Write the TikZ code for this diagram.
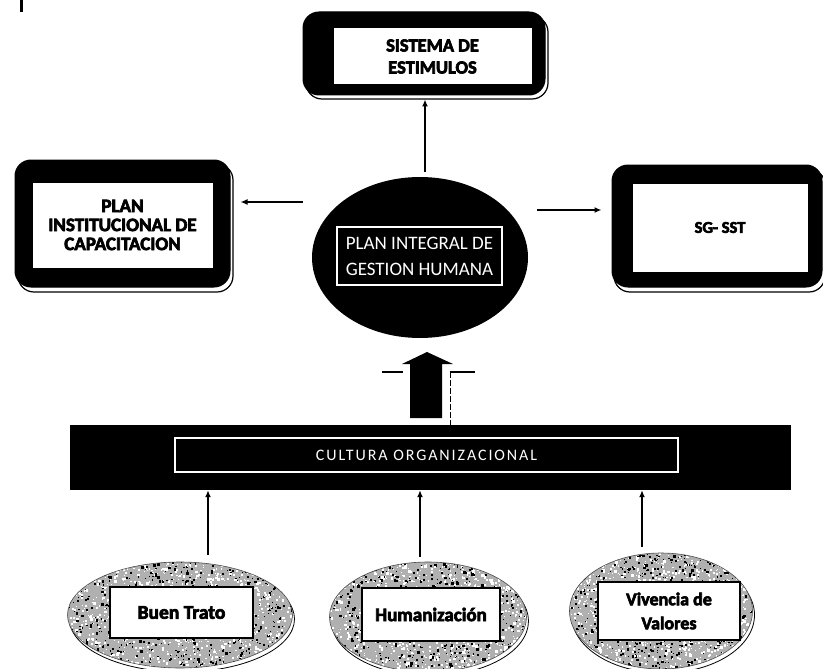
\documentclass[tikz,border=0pt]{standalone}
\usepackage{fontspec}
\setmainfont{Carlito}
\newfontfamily\heavy{Carlito Bold}[FakeBold=3.5]
\newfontfamily\spaced{Carlito}[LetterSpace=12]
\usetikzlibrary{shapes.geometric,arrows.meta}
\tikzset{
  outerbox/.style={draw=black, fill=black, rounded corners=16pt, line width=1pt},
  shadowbox/.style={draw=black, line width=1.2pt, rounded corners=16pt},
  innerbox/.style={draw=black, fill=white, line width=1pt, align=center, text=black, inner sep=0pt},
  whitebox/.style={draw=white, fill=black, line width=2.2pt, align=center, text=white, inner sep=0pt},
  valbox/.style={draw=black, fill=white, line width=1.8pt, align=center, text=black,
     font=\heavy\fontsize{19}{24}\selectfont, inner sep=0pt},
  arr/.style={line width=1.6pt, -{Latex[length=7pt,width=6pt]}},
}
\newcommand{\speckle}[4]{% cx cy rx ry
  \begin{scope}
    \clip (#1,#2) ellipse [x radius=#3pt, y radius=#4pt];
    \fill[gray!62] (#1,#2) ellipse [x radius=#3pt, y radius=#4pt];
    \foreach \i in {1,...,1700}{
      \pgfmathsetmacro{\px}{#1+#3*(2*rnd-1)}
      \pgfmathsetmacro{\py}{#2+#4*(2*rnd-1)}
      \pgfmathsetmacro{\sz}{0.7+1.9*rnd}
      \pgfmathsetmacro{\cl}{rnd<0.6 ? 0 : 100}
      \fill[black!\cl] (\px,\py) rectangle ++(\sz,\sz);
    }
  \end{scope}
  \draw[black!70, line width=0.6pt] (#1,#2) ellipse [x radius=#3pt, y radius=#4pt];
}
\begin{document}
\begin{tikzpicture}[x=1pt,y=-1pt]
\pgfmathsetseed{7}
\useasboundingbox (0,0) rectangle (823,669);
\fill[white] (0,0) rectangle (823,669);
% stray mark top-left
\draw[line width=3pt] (21,0) -- (21,12);

% ---- top box
\draw[shadowbox] (306,16) rectangle (548,99);
\node[outerbox, minimum width=242pt, minimum height=83pt] (topo) at (424,53.5) {};
\node[innerbox, minimum width=199pt, minimum height=57pt, font=\heavy\fontsize{18.5}{22}\selectfont] (top) at (432.5,56.5) {SISTEMA DE\\ESTIMULOS};

% ---- left box
\draw[shadowbox] (18,164) rectangle (233,292);
\node[outerbox, minimum width=215pt, minimum height=127pt] (lefto) at (122.5,223.5) {};
\node[innerbox, minimum width=181pt, minimum height=86pt, font=\heavy\fontsize{19}{19}\selectfont] (left) at (122.5,225) {PLAN\\INSTITUCIONAL DE\\CAPACITACION};

% ---- right box
\draw[shadowbox] (614,169) rectangle (825,292);
\node[outerbox, minimum width=210pt, minimum height=122pt] (righto) at (717,226) {};
\node[innerbox, minimum width=176pt, minimum height=89pt, font=\heavy\fontsize{16.5}{22}\selectfont] (right) at (720,227.5) {SG- SST};

% ---- central ellipse
\node[ellipse, fill=black, minimum width=216pt, minimum height=161pt, inner sep=0pt] (ell) at (420,257.5) {};
\node[whitebox, minimum width=165pt, minimum height=58pt, font=\fontsize{19}{26}\selectfont] (pig) at (419.5,256) {PLAN INTEGRAL DE\\GESTION HUMANA};

% ---- arrows from centre
\coordinate (ua) at (425,172);
\draw[arr] (ua) -- ([yshift=-4pt]ua |- topo.south);
\coordinate (la) at (303,202);
\draw[arr] (la) -- ([xshift=10pt]la -| lefto.east);
\coordinate (ra) at (537,210);
\draw[arr] (ra) -- ([xshift=-10pt]ra -| righto.west);

% ---- cultura bar
\node[fill=black, minimum width=721pt, minimum height=65pt, inner sep=0pt] (bar) at (430.5,457.5) {};
\node[whitebox, line width=2.6pt, minimum width=503pt, minimum height=34pt, font=\spaced\fontsize{16}{18}\selectfont] (cult) at (426.5,455) {CULTURA ORGANIZACIONAL};

% ---- block arrow
\fill[black] (410,418) -- (410,364) -- (402,364) -- (427,352) -- (453,364) -- (442,364) -- (442,418) -- cycle;
\draw[line width=1.3pt] (382,372) -- (403,372);
\draw[line width=1.3pt] (450,372) -- (475,372);
\draw[line width=0.8pt, dash pattern=on 6pt off 2pt] (450,372) -- (450,425);

% ---- bottom ellipses
\draw[black, line width=0.8pt] (182,619) ellipse [x radius=112.5pt, y radius=53pt];
\speckle{180}{615}{112.5}{53}
\draw[black, line width=0.8pt] (430,621) ellipse [x radius=98.5pt, y radius=55pt];
\speckle{428}{617}{98.5}{55}
\draw[black, line width=0.8pt] (663,615) ellipse [x radius=91.5pt, y radius=58pt];
\speckle{661}{611}{91.5}{58}

\node[valbox, minimum width=143pt, minimum height=51pt, font=\heavy\fontsize{19.5}{24}\selectfont] (b1) at (181.5,612.5) {Buen Trato};
\node[valbox, minimum width=138pt, minimum height=53pt] (b2) at (431,614.5) {Humanización};
\node[valbox, minimum width=142pt, minimum height=58pt, font=\heavy\fontsize{18}{24}\selectfont] (b3) at (669,611) {Vivencia de\\Valores};

% ---- arrows to bar
\coordinate (s1) at (208,555);
\coordinate (s2) at (420,557);
\coordinate (s3) at (642,547);
\draw[arr] (s1) -- (s1 |- bar.south);
\draw[arr] (s2) -- (s2 |- bar.south);
\draw[arr] (s3) -- (s3 |- bar.south);
\end{tikzpicture}
\end{document}
